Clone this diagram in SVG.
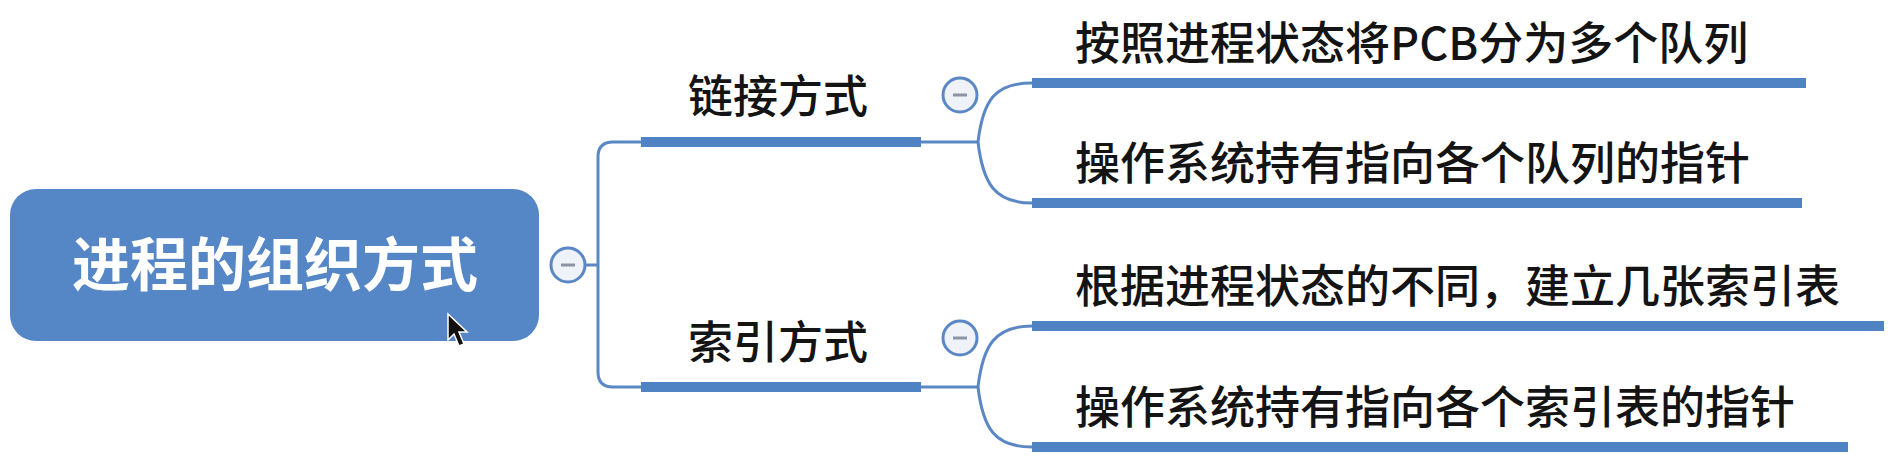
<svg xmlns="http://www.w3.org/2000/svg" width="1898" height="462" viewBox="0 0 1898 462">
<style>
.bg{fill:#ffffff}
.root{fill:#5586c6}
.rt{font-family:"Noto Sans CJK SC","Noto Sans",sans-serif;font-size:58px;font-weight:bold;fill:#ffffff}
.lbl{font-family:"Noto Sans CJK SC","Noto Sans",sans-serif;font-size:45px;font-weight:500;fill:#141414}
.bar{stroke:#4f83c4;stroke-width:10;fill:none}
.thin{stroke:#5b87c5;stroke-width:3;fill:none}
.tog circle{fill:#eff3f9;stroke:#5b87c5;stroke-width:3}
.tog line{stroke:#8d95a5;stroke-width:3}
</style>
<rect class="bg" x="0" y="0" width="1898" height="462"/>
<g id="connectors">
  <path class="thin" d="M586,265 H598"/>
  <path class="thin" d="M598,265 V157 Q598,142 613,142 H641"/>
  <path class="thin" d="M598,265 V372 Q598,387 613,387 H641"/>
  <path class="thin" d="M921,142 H978"/>
  <path class="thin" d="M978,142 C983,100 995,83 1032,83"/>
  <path class="thin" d="M978,142 C983,184 995,203 1032,203"/>
  <path class="thin" d="M921,387 H978"/>
  <path class="thin" d="M978,387 C983,345 995,326 1032,326"/>
  <path class="thin" d="M978,387 C983,429 995,447 1032,447"/>
</g>
<g id="root">
  <rect class="root" x="10" y="189" width="529" height="152" rx="26" ry="26"/>
  <text class="rt" x="275" y="286" text-anchor="middle">进程的组织方式</text>
  <g class="tog"><circle cx="568" cy="265" r="17"/><line x1="561" y1="265" x2="575" y2="265"/></g>
</g>
<g id="link">
  <path class="bar" d="M641,142 H921"/>
  <text class="lbl" x="778" y="113" text-anchor="middle">链接方式</text>
  <g class="tog"><circle cx="960" cy="95" r="17"/><line x1="953" y1="95" x2="967" y2="95"/></g>
</g>
<g id="index">
  <path class="bar" d="M641,387 H921"/>
  <text class="lbl" x="778" y="359" text-anchor="middle">索引方式</text>
  <g class="tog"><circle cx="960" cy="338" r="17"/><line x1="953" y1="338" x2="967" y2="338"/></g>
</g>
<g id="c1">
  <path class="bar" d="M1032,83 H1806"/>
  <text class="lbl" x="1075" y="60">按照进程状态将PCB分为多个队列</text>
</g>
<g id="c2">
  <path class="bar" d="M1032,203 H1802"/>
  <text class="lbl" x="1075" y="180">操作系统持有指向各个队列的指针</text>
</g>
<g id="c3">
  <path class="bar" d="M1032,326 H1884"/>
  <text class="lbl" x="1075" y="303">根据进程状态的不同，建立几张索引表</text>
</g>
<g id="c4">
  <path class="bar" d="M1032,447 H1848"/>
  <text class="lbl" x="1075" y="424">操作系统持有指向各个索引表的指针</text>
</g>
<path d="M448,314 L448,340 L454,334 L459,346 L464,344 L459,332 L467,332 Z" fill="#111" stroke="#fff" stroke-width="1.5"/>
</svg>
